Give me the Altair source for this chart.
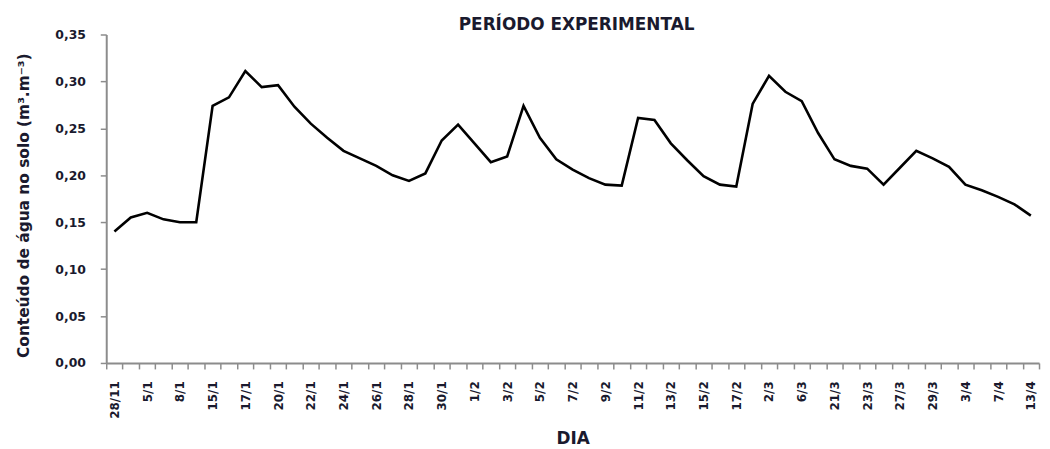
import json
import altair as alt
import pandas as pd

# Dates (every category); only odd ones are labelled in the reference
dates = ["28/11", "4/1", "5/1", "7/1", "8/1", "14/1", "15/1", "16/1", "17/1", "19/1",
         "20/1", "21/1", "22/1", "23/1", "24/1", "25/1", "26/1", "27/1", "28/1", "29/1",
         "30/1", "31/1", "1/2", "2/2", "3/2", "4/2", "5/2", "6/2", "7/2", "8/2",
         "9/2", "10/2", "11/2", "12/2", "13/2", "14/2", "15/2", "16/2", "17/2", "1/3",
         "2/3", "4/3", "6/3", "20/3", "21/3", "22/3", "23/3", "26/3", "27/3", "28/3",
         "29/3", "1/4", "3/4", "5/4", "7/4", "10/4", "13/4"]

water = [0.140, 0.155, 0.160, 0.153, 0.150, 0.150, 0.274, 0.283, 0.311, 0.294,
         0.296, 0.273, 0.255, 0.240, 0.226, 0.218, 0.210, 0.200, 0.194, 0.202,
         0.237, 0.254, 0.234, 0.214, 0.220, 0.274, 0.240, 0.217, 0.206, 0.197,
         0.190, 0.189, 0.261, 0.259, 0.234, 0.216, 0.199, 0.190, 0.188, 0.276,
         0.306, 0.289, 0.279, 0.245, 0.217, 0.210, 0.207, 0.190, 0.208, 0.226,
         0.218, 0.209, 0.190, 0.184, 0.177, 0.169, 0.157]

y_ticks = [0, 0.05, 0.10, 0.15, 0.20, 0.25, 0.30, 0.35]

df = pd.DataFrame({"idx": list(range(1, len(water) + 1)), "dia": dates, "agua": water})

n = len(water)
tick_values = [k * 0.5 for k in range(1, 2 * n + 2)]
label_expr = ("(datum.value % 1 === 0 && datum.value % 2 === 1) ? "
              + json.dumps(dates) + "[datum.value - 1] : ''")

FONT = "DejaVu Sans"
TXT = "#1a1a2e"
AX = "#8c8c8c"

chart = alt.Chart(df).mark_line(color="black", strokeWidth=2.6).encode(
    x=alt.X("idx:Q",
            scale=alt.Scale(domain=[0.5, n + 0.5], nice=False, zero=False),
            axis=alt.Axis(title="DIA", values=tick_values, labelExpr=label_expr,
                          labelAngle=-90, labelAlign="right", labelBaseline="middle",
                          labelOverlap=False, labelFlush=False, labelBound=False,
                          labelPadding=12, labelFontSize=12, labelFontWeight="bold",
                          labelFont=FONT, labelColor=TXT,
                          tickSize=6, tickColor=AX, tickWidth=1.5,
                          tickOpacity={"condition": {"test": "datum.value % 1 !== 0", "value": 1}, "value": 0},
                          domainColor=AX, domainWidth=2, grid=False,
                          titleFont=FONT, titleFontSize=17, titleFontWeight="bold",
                          titleColor=TXT, titleY=76, titleBaseline="middle")),
    y=alt.Y("agua:Q",
            scale=alt.Scale(domain=[0, 0.35], nice=False),
            axis=alt.Axis(title="Conteúdo de água no solo (m³.m⁻³)",
                          values=y_ticks,
                          labelExpr="replace(format(datum.value, '.2f'), '.', ',')",
                          labelFontSize=12.5, labelFontWeight="bold", labelFont=FONT,
                          labelColor=TXT, labelPadding=15,
                          tickSize=6, tickColor=AX, tickWidth=1.5,
                          domainColor=AX, domainWidth=2, grid=False,
                          titleFont=FONT, titleFontSize=15.5, titleFontWeight="bold",
                          titleColor=TXT, titleX=-83, titleY=172,
                          titleAngle=-90, titleBaseline="middle", titleAlign="center")),
).properties(
    width=940, height=331,
    title=alt.TitleParams("PERÍODO EXPERIMENTAL", font=FONT, fontSize=17,
                          fontWeight="bold", color=TXT, anchor="middle", offset=-5, dx=4),
    padding={"left": 99, "top": 25, "right": 3, "bottom": 85},
    autosize=alt.AutoSizeParams(type="none"),
).configure_view(stroke=None)

chart.save("out.html", embed_options={"renderer": "svg", "actions": False})
